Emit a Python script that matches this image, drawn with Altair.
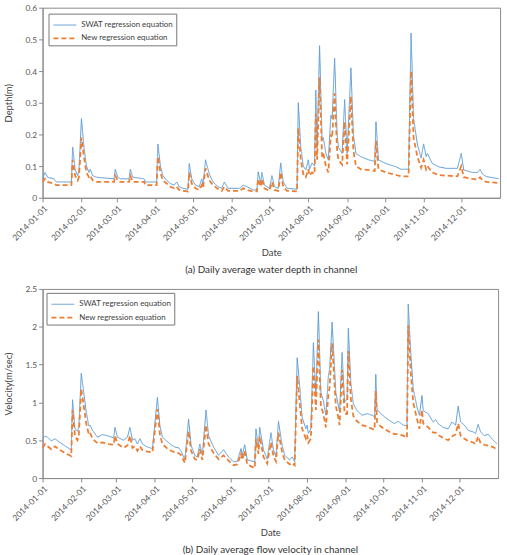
import altair as alt
import pandas as pd

# ---------------- data (day offsets from 2014-01-01) ----------------
series_names = ["SWAT regression equation", "New regression equation"]
month_ticks = list(range(1, 13))

days_a = [0, 2, 4, 9, 11, 23, 24, 26, 28, 29,
          31, 33, 35, 37, 38, 40, 43, 57, 58, 60,
          62, 69, 70, 72, 81, 82, 91, 92, 94, 96,
          99, 102, 105, 107, 109, 112, 116, 117, 119, 122,
          125, 127, 128, 130, 133, 136, 140, 143, 145, 148,
          157, 160, 163, 168, 171, 172, 174, 175, 177, 181,
          183, 185, 188, 190, 192, 195, 203, 204, 206, 208,
          210, 212, 213, 215, 217, 218, 219, 221, 223, 224,
          226, 228, 230, 231, 233, 235, 236, 239, 241, 243,
          246, 248, 250, 254, 260, 265, 266, 268, 274, 282,
          286, 292, 294, 296, 299, 302, 304, 306, 307, 311,
          316, 322, 331, 334, 336, 343, 347, 349, 351, 354,
          364]
swat_a = [0.06, 0.08, 0.065, 0.06, 0.05, 0.05, 0.16, 0.09, 0.07, 0.085,
          0.25, 0.16, 0.10, 0.08, 0.09, 0.07, 0.065, 0.06, 0.09, 0.065,
          0.06, 0.06, 0.09, 0.065, 0.06, 0.05, 0.05, 0.17, 0.10, 0.07,
          0.055, 0.045, 0.04, 0.05, 0.035, 0.03, 0.027, 0.108, 0.06, 0.04,
          0.035, 0.06, 0.04, 0.12, 0.075, 0.05, 0.035, 0.03, 0.05, 0.03,
          0.03, 0.04, 0.035, 0.025, 0.025, 0.082, 0.047, 0.08, 0.04, 0.03,
          0.07, 0.035, 0.03, 0.11, 0.05, 0.03, 0.027, 0.30, 0.16, 0.10,
          0.088, 0.12, 0.09, 0.11, 0.10, 0.34, 0.16, 0.48, 0.18, 0.19,
          0.14, 0.12, 0.26, 0.25, 0.44, 0.20, 0.16, 0.14, 0.31, 0.14,
          0.41, 0.20, 0.14, 0.13, 0.12, 0.115, 0.24, 0.12, 0.108, 0.098,
          0.09, 0.09, 0.52, 0.25, 0.17, 0.125, 0.17, 0.13, 0.14, 0.108,
          0.098, 0.093, 0.093, 0.14, 0.088, 0.08, 0.08, 0.09, 0.075, 0.067,
          0.06]
new_a = [0.05, 0.06, 0.05, 0.045, 0.04, 0.04, 0.12, 0.07, 0.055, 0.065,
         0.19, 0.13, 0.08, 0.065, 0.07, 0.055, 0.05, 0.05, 0.07, 0.055,
         0.05, 0.05, 0.07, 0.05, 0.05, 0.04, 0.04, 0.13, 0.08, 0.055,
         0.045, 0.035, 0.03, 0.035, 0.025, 0.022, 0.02, 0.08, 0.045, 0.03,
         0.025, 0.04, 0.03, 0.093, 0.055, 0.04, 0.028, 0.022, 0.035, 0.022,
         0.022, 0.03, 0.025, 0.02, 0.02, 0.06, 0.035, 0.06, 0.03, 0.022,
         0.05, 0.025, 0.022, 0.08, 0.035, 0.022, 0.02, 0.22, 0.12, 0.075,
         0.065, 0.09, 0.07, 0.08, 0.075, 0.265, 0.12, 0.38, 0.13, 0.14,
         0.10, 0.08, 0.20, 0.19, 0.33, 0.15, 0.12, 0.105, 0.24, 0.105,
         0.32, 0.15, 0.10, 0.09, 0.088, 0.085, 0.18, 0.09, 0.08, 0.072,
         0.068, 0.068, 0.40, 0.19, 0.13, 0.095, 0.12, 0.09, 0.10, 0.08,
         0.072, 0.07, 0.068, 0.10, 0.065, 0.06, 0.058, 0.065, 0.055, 0.05,
         0.047]

days_b = [0, 2, 4, 7, 10, 13, 18, 23, 24, 26,
          28, 29, 31, 33, 35, 37, 38, 40, 44, 48,
          53, 57, 58, 60, 65, 68, 70, 72, 74, 76,
          78, 80, 84, 88, 92, 94, 96, 100, 103, 106,
          109, 111, 114, 117, 119, 122, 124, 126, 128, 131,
          133, 137, 141, 145, 149, 153, 156, 159, 160, 162,
          164, 170, 171, 173, 174, 177, 180, 183, 185, 187,
          189, 192, 194, 198, 200, 202, 204, 206, 208, 211,
          212, 213, 215, 217, 219, 221, 223, 225, 227, 229,
          230, 232, 235, 237, 238, 240, 242, 244, 245, 247,
          249, 252, 256, 260, 264, 266, 267, 268, 271, 274,
          278, 282, 285, 289, 292, 293, 295, 297, 300, 302,
          304, 305, 309, 313, 315, 317, 321, 325, 328, 331,
          333, 335, 338, 341, 345, 347, 349, 351, 354, 357,
          361, 364]
swat_b = [0.52, 0.555, 0.54, 0.49, 0.52, 0.48, 0.425, 0.37, 1.035, 0.65,
          0.62, 0.67, 1.385, 1.13, 0.87, 0.69, 0.70, 0.63, 0.54, 0.575,
          0.555, 0.53, 0.67, 0.54, 0.50, 0.54, 0.67, 0.50, 0.52, 0.45,
          0.52, 0.45, 0.41, 0.39, 1.067, 0.695, 0.54, 0.48, 0.44, 0.41,
          0.40, 0.355, 0.24, 0.78, 0.433, 0.30, 0.28, 0.45, 0.30, 0.90,
          0.56, 0.41, 0.30, 0.375, 0.28, 0.215, 0.22, 0.39, 0.30, 0.44,
          0.24, 0.215, 0.65, 0.40, 0.67, 0.37, 0.25, 0.60, 0.37, 0.28,
          0.75, 0.43, 0.30, 0.24, 0.28, 0.215, 1.59, 1.22, 0.80, 0.65,
          0.70, 0.59, 0.65, 1.79, 1.09, 2.20, 1.13, 1.02, 0.83, 1.35,
          1.44, 2.06, 1.13, 0.96, 0.87, 1.66, 1.00, 1.05, 1.98, 1.26,
          0.98, 0.89, 0.83, 0.85, 0.83, 0.81, 1.37, 0.91, 0.85, 0.81,
          0.76, 0.72, 0.75, 0.70, 0.69, 2.30, 1.66, 1.18, 0.94, 0.83,
          1.09, 0.89, 0.85, 0.74, 0.77, 0.72, 0.67, 0.65, 0.74, 0.70,
          0.95, 0.74, 0.70, 0.63, 0.61, 0.59, 0.71, 0.61, 0.56, 0.58,
          0.50, 0.455]
new_b = [0.40, 0.45, 0.42, 0.38, 0.42, 0.38, 0.33, 0.29, 0.90, 0.55,
         0.50, 0.55, 1.18, 0.95, 0.72, 0.58, 0.60, 0.52, 0.46, 0.47,
         0.45, 0.44, 0.56, 0.45, 0.40, 0.43, 0.56, 0.40, 0.42, 0.36,
         0.42, 0.37, 0.35, 0.34, 0.91, 0.58, 0.45, 0.39, 0.36, 0.34,
         0.33, 0.30, 0.20, 0.62, 0.36, 0.25, 0.24, 0.38, 0.24, 0.70,
         0.45, 0.33, 0.25, 0.30, 0.23, 0.17, 0.18, 0.32, 0.24, 0.36,
         0.18, 0.13, 0.52, 0.32, 0.55, 0.28, 0.19, 0.47, 0.29, 0.22,
         0.60, 0.34, 0.24, 0.18, 0.20, 0.17, 1.35, 1.00, 0.65, 0.52,
         0.57, 0.47, 0.52, 1.48, 0.90, 1.83, 0.95, 0.85, 0.67, 1.10,
         1.20, 1.78, 0.95, 0.80, 0.70, 1.43, 0.85, 0.85, 1.68, 1.05,
         0.82, 0.75, 0.70, 0.68, 0.65, 0.64, 1.15, 0.74, 0.68, 0.65,
         0.61, 0.58, 0.58, 0.56, 0.53, 2.02, 1.40, 1.00, 0.78, 0.65,
         0.90, 0.72, 0.67, 0.60, 0.60, 0.57, 0.53, 0.50, 0.55, 0.58,
         0.72, 0.56, 0.52, 0.49, 0.47, 0.45, 0.55, 0.46, 0.44, 0.43,
         0.41, 0.38]

FONT = "Lato"
BLUE = "#5B9BD5"
ORANGE = "#ED7D31"


def make_df(days, swat, new):
    dates = (pd.Timestamp("2014-01-01") + pd.to_timedelta(days, unit="D")).strftime("%Y-%m-%d")
    a = pd.DataFrame({"date": list(dates), "value": swat, "series": series_names[0]})
    b = pd.DataFrame({"date": list(dates), "value": new, "series": series_names[1]})
    return pd.concat([a, b], ignore_index=True)


def panel(df, ytitle, ymax, ystep, caption, w, h, lx, ly):
    tick_vals = [alt.DateTime(year=2014, month=m, date=1, utc=True) for m in month_ticks]
    yvals = [round(i * ystep, 3) for i in range(int(round(ymax / ystep)) + 1)]
    leg = alt.Legend(title=None, orient="none", legendX=lx, legendY=ly,
                     direction="vertical", symbolType="M-0.875,0H2", symbolSize=256,
                     symbolStrokeWidth=1.6, labelFontSize=8, labelFont=FONT,
                     labelColor="#404040", strokeColor="#777", fillColor="white",
                     padding=3, rowPadding=0, labelOffset=12)
    return alt.Chart(df).mark_line(strokeJoin="miter").encode(
        x=alt.X("date:T",
                scale=alt.Scale(type="utc",
                                domain=[alt.DateTime(year=2014, month=1, date=1, utc=True),
                                        alt.DateTime(year=2015, month=1, date=1, utc=True)]),
                axis=alt.Axis(values=tick_vals, format="%Y-%m-%d", labelAngle=-45,
                              labelAlign="right", labelBaseline="top", labelOverlap=False,
                              title="Date", titlePadding=6, labelFontSize=8.5,
                              tickSize=4, grid=False, labelPadding=2)),
        y=alt.Y("value:Q",
                scale=alt.Scale(domain=[0, ymax], nice=False),
                axis=alt.Axis(values=yvals, format=".1~f", title=ytitle, grid=False,
                              tickSize=4, labelPadding=2, titlePadding=12,
                              labelFontSize=8.5)),
        color=alt.Color("series:N", scale=alt.Scale(domain=series_names, range=[BLUE, ORANGE]),
                        legend=leg),
        strokeDash=alt.StrokeDash("series:N",
                                  scale=alt.Scale(domain=series_names, range=[[1, 0], [5, 3]]),
                                  legend=leg),
        strokeWidth=alt.StrokeWidth("series:N",
                                    scale=alt.Scale(domain=series_names, range=[1, 1.8]),
                                    legend=None),
        order=alt.Order("date:T"),
    ).properties(
        width=w, height=h,
        title=alt.TitleParams(caption, orient="bottom", anchor="middle", fontSize=10,
                              fontWeight="normal", font=FONT, color="#333", offset=8),
    )


df_a = make_df(days_a, swat_a, new_a)
df_b = make_df(days_b, swat_b, new_b)

pa = panel(df_a, "Depth(m)", 0.6, 0.1, "(a) Daily average water depth in channel", 462, 192, 6, 6)
pb = panel(df_b, "Velocity(m/sec)", 2.5, 0.5, "(b) Daily average flow velocity in channel", 460, 191, 4, 4)

chart = alt.vconcat(pa, pb, spacing=8).resolve_scale(
    color="independent", strokeDash="independent", strokeWidth="independent", y="independent"
).properties(
    padding={"left": 2, "top": 0, "right": 4, "bottom": 2}
).configure(
    font=FONT
).configure_view(
    stroke="#8a8a8a", strokeWidth=1
).configure_axis(
    domainColor="#8a8a8a", tickColor="#8a8a8a", labelColor="#595959",
    titleColor="#404040", titleFontWeight="normal", titleFontSize=9.5,
    labelFont=FONT, titleFont=FONT
)

chart.save("out.html", embed_options={"renderer": "svg", "actions": False})
